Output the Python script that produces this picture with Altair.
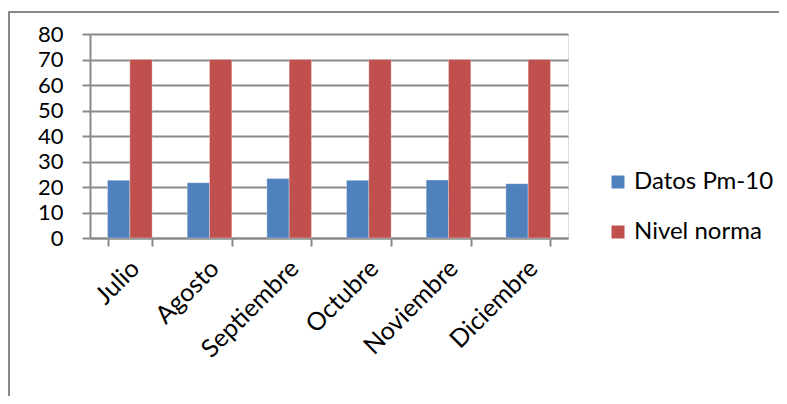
import altair as alt
import pandas as pd

meses = ["Julio", "Agosto", "Septiembre", "Octubre", "Noviembre", "Diciembre"]
datos_pm10 = [22.6, 21.7, 23.3, 22.6, 22.7, 21.3]
nivel_norma = [70, 70, 70, 70, 70, 70]
series = ["Datos Pm-10", "Nivel norma"]
colores = ["#4F81BD", "#C0504D"]

rows = []
for m, a, b in zip(meses, datos_pm10, nivel_norma):
    rows.append({"mes": m, "serie": series[0], "valor": a})
    rows.append({"mes": m, "serie": series[1], "valor": b})
df = pd.DataFrame(rows)

FONT = "Lato"
FS = 22
GRAY = "#898989"

bars = alt.Chart(df).mark_bar(stroke="#ffffff", strokeOpacity=0.5, strokeWidth=0.6).encode(
    x=alt.X("mes:N", sort=meses,
            scale=alt.Scale(paddingInner=0.44, paddingOuter=0.22),
            axis=alt.Axis(title=None, labelAngle=-45, labelAlign="right",
                          labelBaseline="middle", tickBand="extent",
                          tickSize=8, tickColor=GRAY, tickWidth=2,
                          domainColor=GRAY, domainWidth=2, grid=False,
                          labelFont=FONT, labelFontSize=25, labelColor="#000000",
                          labelPadding=18, labelOffset=5)),
    xOffset=alt.XOffset("serie:N", sort=series, scale=alt.Scale(paddingInner=0, paddingOuter=0)),
    y=alt.Y("valor:Q", scale=alt.Scale(domain=[0, 80], nice=False),
            axis=alt.Axis(title=None, values=list(range(0, 81, 10)),
                          tickSize=8, tickColor=GRAY, tickWidth=2,
                          domainColor=GRAY, domainWidth=2,
                          gridColor=GRAY, gridWidth=2,
                          labelFont=FONT, labelFontSize=FS, labelColor="#000000",
                          labelPadding=19)),
    color=alt.Color("serie:N", sort=series,
                    scale=alt.Scale(domain=series, range=colores),
                    legend=alt.Legend(title=None, orient="none", legendX=516, legendY=136,
                                      symbolType="square", symbolSize=169,
                                      symbolStrokeWidth=0, labelFont=FONT,
                                      labelFontSize=24, labelColor="#000000",
                                      labelOffset=4, rowPadding=26, padding=0,
                                      labelLimit=300)),
)

frame = alt.Data(values=[{}])
top_border = alt.Chart(frame).mark_rule(color=GRAY, strokeWidth=2).encode(
    x=alt.value(-82), x2=alt.value(700), y=alt.value(-22)
)
left_border = alt.Chart(frame).mark_rule(color=GRAY, strokeWidth=2).encode(
    x=alt.value(-81), y=alt.value(-23), y2=alt.value(600)
)

chart = alt.layer(top_border, left_border, bars).properties(
    width=478, height=204,
    autosize=alt.AutoSizeParams(type="none"),
    padding={"left": 82, "top": 26, "right": 211, "bottom": 158},
).configure_view(stroke=None).configure(background="#ffffff")

chart.save("out.html", embed_options={"renderer": "svg", "actions": False})
